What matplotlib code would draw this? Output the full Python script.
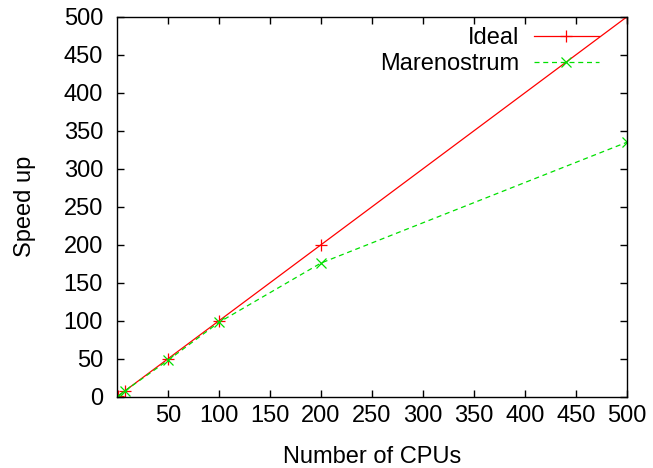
import matplotlib
matplotlib.use('Agg')
import matplotlib.pyplot as plt

plt.rcParams['font.family'] = ['Liberation Sans', 'DejaVu Sans']
plt.rcParams['font.size'] = 17

# data
cpus = [1, 8, 50, 100, 200, 500]
ideal = [1, 8, 50, 100, 200, 500]
marenostrum = [1, 8, 48, 98, 176, 335]

fig = plt.figure(figsize=(6.53, 4.68), dpi=100)
ax = fig.add_axes([0.179, 0.152, 0.781, 0.812])

ax.plot(cpus, ideal, color='#ff0000', lw=0.9, marker='+', ms=8, mew=0.9, label='Ideal')
ax.plot(cpus, marenostrum, color='#00e000', lw=0.9, ls=(0, (4, 3)), marker='x', ms=6.5, mew=0.9,
        label='Marenostrum')

ax.set_xlim(0, 500)
ax.set_ylim(0, 500)
ax.set_xticks(range(50, 501, 50))
ax.set_yticks(range(0, 501, 50))
ax.tick_params(direction='in', length=5, width=1, top=True, right=True)
ax.tick_params(axis='x', pad=6)
ax.tick_params(axis='y', pad=10)
for s in ax.spines.values():
    s.set_linewidth(1)

ax.set_xlabel('Number of CPUs', labelpad=13.5)
ax.set_ylabel('Speed up', labelpad=20)

ax.legend(loc='upper right', bbox_to_anchor=(0.945, 0.973), frameon=False, markerfirst=False,
          numpoints=1, handlelength=2.75, handletextpad=0.6, labelspacing=0.17,
          borderpad=0, borderaxespad=0)

fig.savefig('out.png', dpi=100)
